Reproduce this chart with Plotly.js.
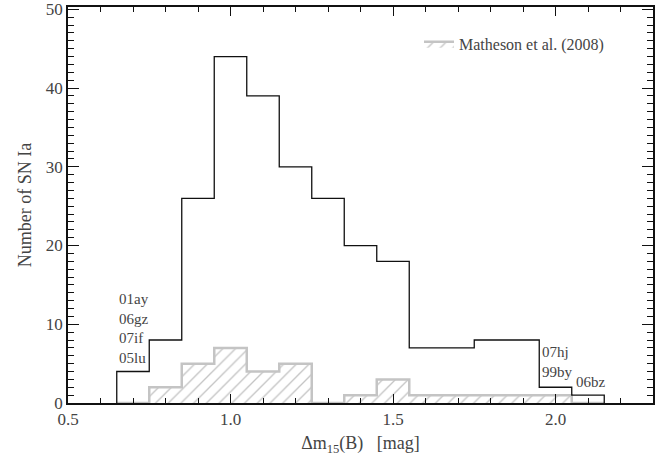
<!DOCTYPE html>
<html>
<head>
<meta charset="utf-8">
<script src="https://cdn.plot.ly/plotly-3.0.1.min.js"></script>
<style>
  body { margin: 0; background: #fff; }
  #chart { width: 655px; height: 461px; }
  #chart.serif text { font-family: "Liberation Serif", serif !important; }
</style>
</head>
<body>
<div id="chart"></div>
<script>
// bin edges of the decline-rate histogram (mag)
const binEdges = [0.65, 0.75, 0.85, 0.95, 1.05, 1.15, 1.25, 1.35, 1.45, 1.55, 1.65, 1.75, 1.85, 1.95, 2.05, 2.15];
// counts per bin, this sample
const snCounts = [4, 8, 26, 44, 39, 30, 26, 20, 18, 7, 7, 8, 8, 2, 1];
// counts per bin, Matheson et al. (2008)
const mathesonCounts = [0, 2, 5, 7, 4, 5, 0, 1, 3, 1, 1, 1, 1, 1, 0];

const serif = 'Liberation Serif, Times New Roman, serif';
const textGrey = '#444';

// turn counts into a closed step outline
const stepX = (edges) => [edges[0]].concat(edges);
const stepY = (counts) => [0].concat(counts, [0]);

var matheson = {
    x: stepX(binEdges),
    y: stepY(mathesonCounts),
    type: 'scatter',
    mode: 'lines',
    name: 'Matheson et al. (2008)',
    line: { shape: 'hv', color: '#c4c4c4', width: 2.5 },
    fill: 'tozeroy',
    fillcolor: 'rgba(0,0,0,0)',
    fillpattern: { shape: '/', fgcolor: '#c4c4c4', bgcolor: 'rgba(255,255,255,0)', size: 9, solidity: 0.15 }
};

var sample = {
    x: stepX(binEdges),
    y: stepY(snCounts),
    type: 'scatter',
    mode: 'lines',
    showlegend: false,
    line: { shape: 'hv', color: '#111', width: 1.3 }
};

var annFont = { family: serif, size: 15, color: textGrey };

var layout = {
    width: 655,
    height: 461,
    margin: { l: 68, r: 2, t: 7, b: 58 },
    paper_bgcolor: '#fff',
    plot_bgcolor: '#fff',
    font: { family: serif, color: textGrey, size: 17 },
    showlegend: true,
    legend: {
        x: 0.6, y: 0.95, xanchor: 'left', yanchor: 'top',
        bgcolor: 'rgba(0,0,0,0)',
        font: { family: serif, size: 16, color: textGrey }
    },
    xaxis: {
        range: [0.5, 2.3],
        dtick: 0.5,
        tickformat: '.1f',
        ticks: 'inside',
        ticklen: 9,
        tickcolor: '#111',
        showline: true,
        linecolor: '#111',
        linewidth: 1.5,
        mirror: 'allticks',
        showgrid: false,
        zeroline: false,
        minor: { dtick: 0.1, ticks: 'inside', ticklen: 5, tickcolor: '#111', showgrid: false },
        tickfont: { family: serif, size: 17, color: textGrey },
        title: { text: '\u0394m<sub>15</sub>(B)\u00a0\u00a0\u00a0[mag]', font: { family: serif, size: 18, color: textGrey }, standoff: 8 }
    },
    yaxis: {
        range: [0, 50.3],
        dtick: 10,
        ticks: 'inside',
        ticklen: 11,
        tickcolor: '#111',
        showline: true,
        linecolor: '#111',
        linewidth: 1.5,
        mirror: 'allticks',
        showgrid: false,
        zeroline: false,
        minor: { dtick: 1, ticks: 'inside', ticklen: 6, tickcolor: '#111', showgrid: false },
        tickfont: { family: serif, size: 17, color: textGrey },
        title: { text: 'Number of SN Ia', font: { family: serif, size: 18, color: textGrey }, standoff: 10 }
    },
    annotations: [
        { x: binEdges[0], y: snCounts[0], xref: 'x', yref: 'y', xanchor: 'left', yanchor: 'bottom',
          yshift: 4, showarrow: false, align: 'left', text: '01ay<br>06gz<br>07if<br>05lu', font: annFont },
        { x: binEdges[13], y: snCounts[13], xref: 'x', yref: 'y', xanchor: 'left', yanchor: 'bottom',
          yshift: 5, xshift: 1, showarrow: false, align: 'left', text: '07hj<br>99by', font: annFont },
        { x: binEdges[14], y: snCounts[14], xref: 'x', yref: 'y', xanchor: 'left', yanchor: 'bottom',
          yshift: 3, xshift: 2, showarrow: false, align: 'left', text: '06bz', font: annFont }
    ]
};

var gd = document.getElementById('chart');
Plotly.newPlot(gd, [matheson, sample], layout, { displayModeBar: false }).then(() => {
    // switch the drawn text to the serif face only once ticks and frame are in place
    gd.classList.add('serif');
});
</script>
</body>
</html>
